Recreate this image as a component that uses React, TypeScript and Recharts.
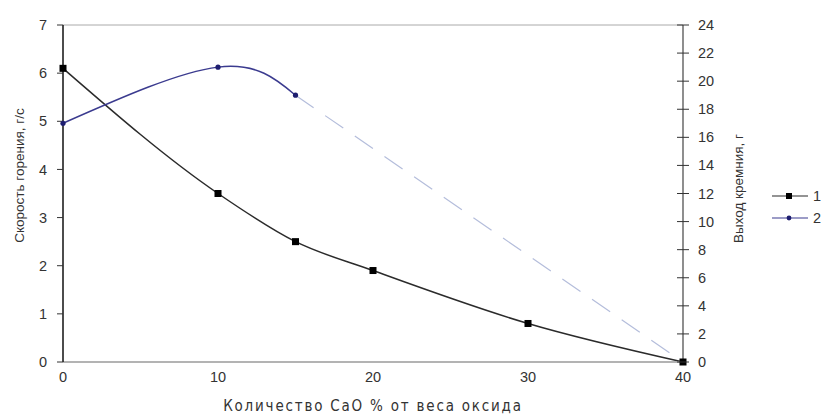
import React from 'react';
import { LineChart, Line, XAxis, YAxis, ReferenceLine, Label } from 'recharts';

const caoPercent = [0, 10, 15, 20, 30, 40];
const burnRate = [6.1, 3.5, 2.5, 1.9, 0.8, 0];
const siliconYield: (number | null)[] = [17, 21, 19, null, null, null];
const siliconYieldExtrap: (number | null)[] = [null, null, 19, null, null, 0];
const xTicks = [0, 10, 20, 30, 40];
const leftTicks = [0, 1, 2, 3, 4, 5, 6, 7];
const rightTicks = [0, 2, 4, 6, 8, 10, 12, 14, 16, 18, 20, 22, 24];
const seriesNames = ['1', '2'];
const xTitle = 'Количество CaO % от веса оксида';
const leftTitle = 'Скорость горения, г/с';
const rightTitle = 'Выход кремния, г';

const data = caoPercent.map((x, i) => ({
  x,
  rate: burnRate[i],
  yld: siliconYield[i],
  ext: siliconYieldExtrap[i],
}));

const FONT = '"Liberation Sans", Arial, sans-serif';
const NARROW = '"Liberation Sans Narrow", "Arial Narrow", "DejaVu Sans Condensed", "Liberation Sans", sans-serif';
const TEXT = '#333';
const BLACK = '#2b2b2b';
const BLUE = '#3b3b8f';
const LIGHTBLUE = '#b4bddb';

const SquareDot = (props: any) => {
  const { cx, cy } = props;
  if (cx == null || cy == null) return null;
  return <rect x={cx - 3.5} y={cy - 3.5} width={7} height={7} fill="#000" />;
};

const BlueDot = (props: any) => {
  const { cx, cy } = props;
  if (cx == null || cy == null) return null;
  return <circle cx={cx} cy={cy} r={2.6} fill="#1e1e70" />;
};

const RightTick = (props: any) => {
  const { x, y, payload } = props;
  const ax = x - 15;
  return (
    <g>
      <line x1={ax - 6} x2={ax + 6} y1={y} y2={y} stroke="#333" strokeWidth={1} />
      <text x={x} y={y} dy="0.35em" textAnchor="start" fill={TEXT} fontSize={14.5} fontFamily={FONT}>
        {payload.value}
      </text>
    </g>
  );
};

const LeftTitle = (props: any) => {
  const vb = props.viewBox || {};
  const cx = vb.x + 19;
  const cy = vb.y + vb.height / 2 - 18;
  return (
    <text x={cx} y={cy} transform={`rotate(-90 ${cx} ${cy})`} textAnchor="middle" dominantBaseline="central" fill={TEXT} fontSize={13.5} fontFamily={FONT}>
      {leftTitle}
    </text>
  );
};

const RightTitle = (props: any) => {
  const vb = props.viewBox || {};
  const cx = vb.x + 55;
  const cy = vb.y + vb.height / 2 - 5;
  return (
    <text x={cx} y={cy} transform={`rotate(-90 ${cx} ${cy})`} textAnchor="middle" dominantBaseline="central" fill={TEXT} fontSize={13.5} fontFamily={FONT}>
      {rightTitle}
    </text>
  );
};

const LegendBox = () => {
  const items = [
    { name: seriesNames[0], color: BLACK, square: true },
    { name: seriesNames[1], color: BLUE, square: false },
  ];
  return (
    <svg width={60} height={50} style={{ position: 'absolute', left: 770, top: 186 }}>
      {items.map((it, i) => {
        const y = 10 + i * 22;
        return (
          <g key={it.name}>
            <line x1={2} x2={38} y1={y} y2={y} stroke={it.color} strokeWidth={1.2} />
            {it.square ? (
              <rect x={16} y={y - 3} width={6} height={6} fill="#000" />
            ) : (
              <circle cx={19} cy={y} r={2.4} fill="#1e1e70" />
            )}
            <text x={43} y={y} dy="0.35em" fill={TEXT} fontSize={14.5} fontFamily={FONT}>
              {it.name}
            </text>
          </g>
        );
      })}
    </svg>
  );
};

export default function App() {
  return (
    <div style={{ position: 'absolute', left: 0, top: 0, width: 822, height: 416, background: '#fff' }}>
      <LineChart width={822} height={416} data={data} margin={{ top: 25, right: 79, bottom: 24, left: 0 }}>
        <XAxis
          dataKey="x"
          type="number"
          domain={[0, 40]}
          ticks={xTicks}
          axisLine={{ stroke: '#9a9a9a', strokeWidth: 1.5 }}
          tickLine={false}
          tickSize={0}
          tickMargin={10}
          height={30}
          tick={{ fill: TEXT, fontSize: 14.5, fontFamily: FONT }}
        >
          <Label value={xTitle} position="bottom" offset={8} fill={TEXT} fontSize={15} letterSpacing={1.8} fontFamily={NARROW} />
        </XAxis>
        <YAxis
          yAxisId="left"
          orientation="left"
          domain={[0, 7]}
          ticks={leftTicks}
          width={63}
          axisLine={{ stroke: '#111', strokeWidth: 1.5 }}
          tickLine={{ stroke: '#333' }}
          tickSize={6}
          tickMargin={10}
          tick={{ fill: TEXT, fontSize: 14.5, fontFamily: FONT }}
        >
          <Label content={<LeftTitle />} />
        </YAxis>
        <YAxis
          yAxisId="right"
          orientation="right"
          domain={[0, 24]}
          ticks={rightTicks}
          width={60}
          axisLine={{ stroke: '#444', strokeWidth: 1.2 }}
          tickLine={false}
          tickSize={6}
          tickMargin={9}
          tick={<RightTick />}
        >
          <Label content={<RightTitle />} />
        </YAxis>
        <ReferenceLine yAxisId="left" y={7} stroke="#aaa" strokeWidth={1} />
        <Line
          yAxisId="right"
          dataKey="ext"
          type="linear"
          stroke={LIGHTBLUE}
          strokeWidth={1.2}
          strokeDasharray="22 14"
          dot={false}
          connectNulls
          legendType="none"
          isAnimationActive={false}
        />
        <Line
          yAxisId="left"
          dataKey="rate"
          name={seriesNames[0]}
          type="monotone"
          stroke={BLACK}
          strokeWidth={1.5}
          dot={<SquareDot />}
          isAnimationActive={false}
        />
        <Line
          yAxisId="right"
          dataKey="yld"
          name={seriesNames[1]}
          type="natural"
          stroke={BLUE}
          strokeWidth={1.5}
          dot={<BlueDot />}
          isAnimationActive={false}
        />
      </LineChart>
      <LegendBox />
    </div>
  );
}
